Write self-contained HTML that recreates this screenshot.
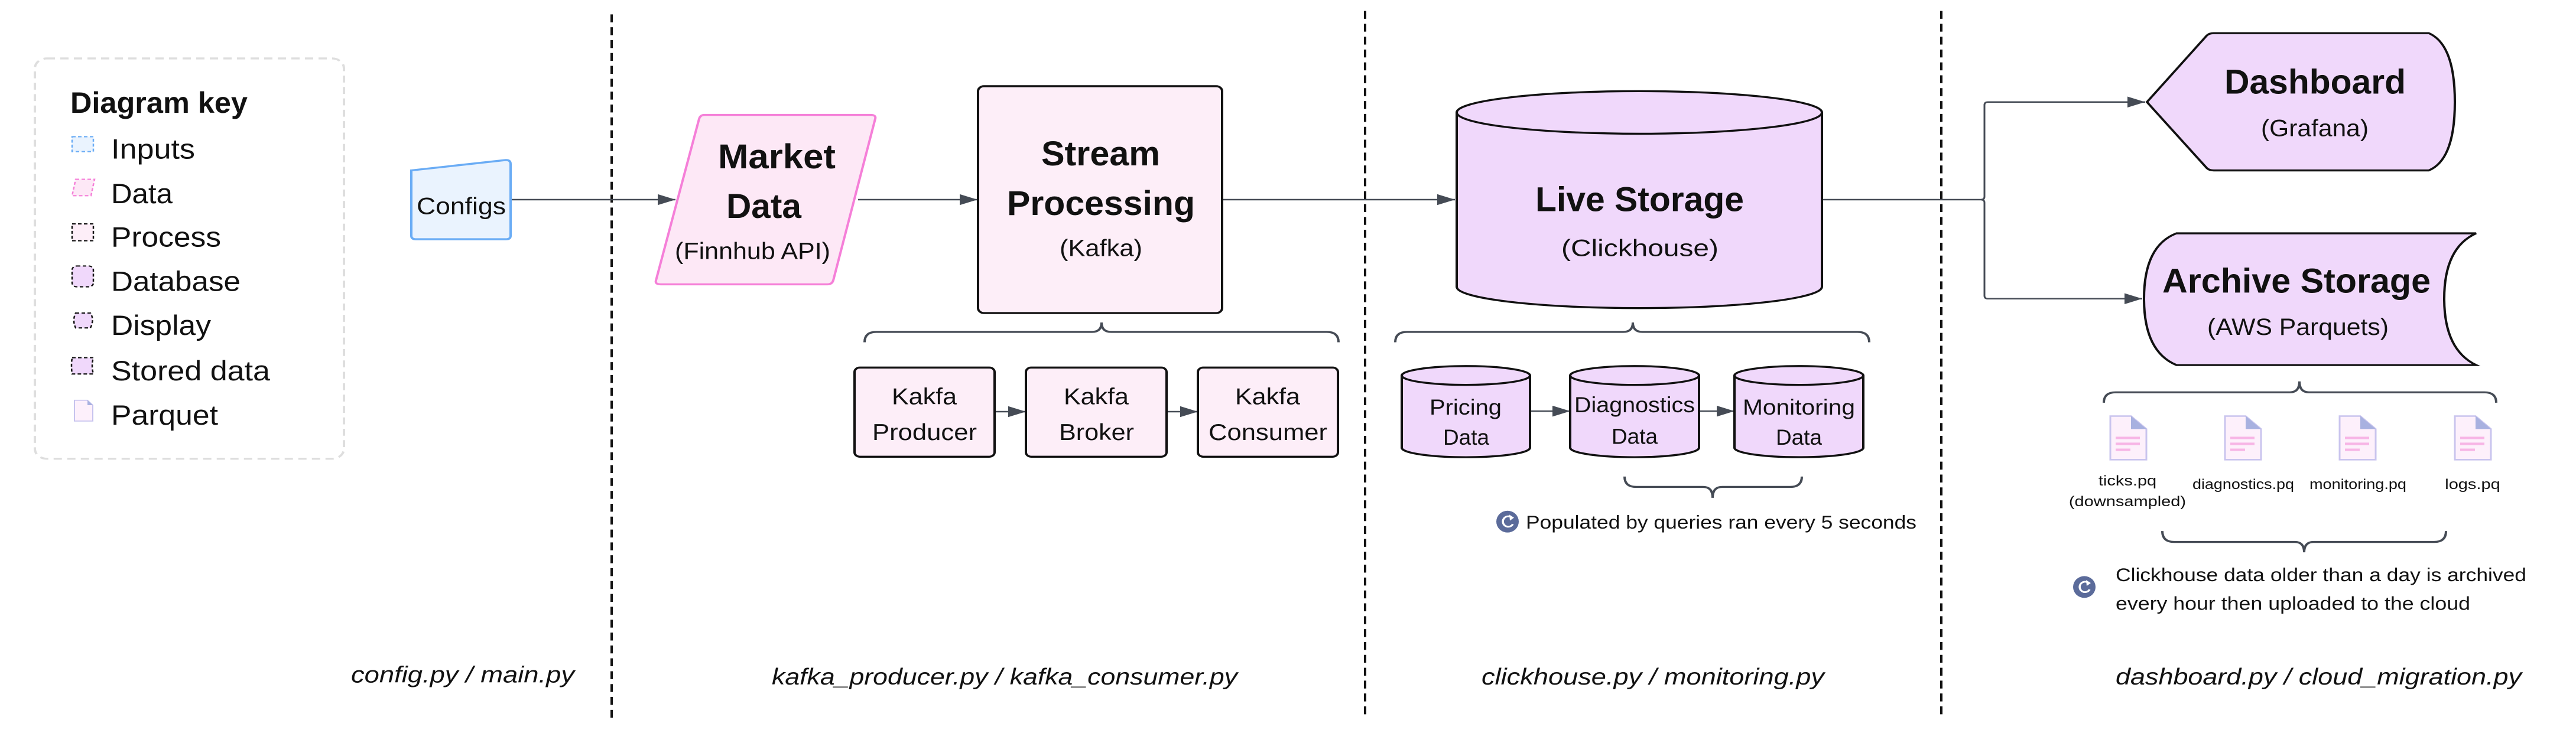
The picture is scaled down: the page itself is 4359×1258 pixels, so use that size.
<!DOCTYPE html>
<html><head><meta charset="utf-8"><style>
html,body{margin:0;padding:0;background:#fff;overflow:hidden;width:4359px;height:1258px;}
svg{display:block;}
text{font-family:"Liberation Sans",sans-serif;fill:#111;}
.b{font-weight:bold;}
</style></head><body>
<svg width="4359" height="1258" viewBox="0 0 4359 1258" xmlns="http://www.w3.org/2000/svg">
<defs>
<marker id="ah2" viewBox="0 0 10 10" refX="10" refY="5" markerWidth="30" markerHeight="22" markerUnits="userSpaceOnUse" orient="auto" preserveAspectRatio="none">
<path d="M0,0 L10,5 L0,10 Z" fill="#454b55"/></marker>
</defs>
<g transform="scale(1,0.8387)">
<!-- Legend -->
<rect x="59" y="118" width="523" height="808" rx="20" fill="none" stroke="#dedede" stroke-width="4" stroke-dasharray="14 9"/>
<text x="119" y="228" class="b" font-size="60" textLength="300" lengthAdjust="spacingAndGlyphs">Diagram key</text>
<rect x="122" y="276" width="36" height="30" fill="#eaf3fe" stroke="#6aacf5" stroke-width="2.5" stroke-dasharray="6 4"/>
<polygon points="128,362 160,362 154,395 122,395" fill="#fde8f6" stroke="#f57fd8" stroke-width="2.5" stroke-dasharray="6 4"/>
<rect x="122" y="452" width="36" height="34" fill="#fdeef8" stroke="#111" stroke-width="2.5" stroke-dasharray="6 4"/>
<rect x="122" y="537" width="36" height="42" rx="8" fill="#f0d8fb" stroke="#111" stroke-width="2.5" stroke-dasharray="6 4"/>
<path d="M128,632 L153,632 Q160,645 153,662 L128,662 Q122,647 128,632 Z" fill="#f0d8fb" stroke="#111" stroke-width="2.5" stroke-dasharray="6 4"/>
<path d="M122,722 L158,722 Q154,738 158,755 L122,755 Q120,738 122,722 Z" fill="#f0d8fb" stroke="#111" stroke-width="2.5" stroke-dasharray="6 4"/>
<path d="M126,808 L148,808 L157,818 L157,850 L126,850 Z" fill="#fdf0fb" stroke="#c7c3ee" stroke-width="2"/>
<path d="M148,808 L157,818 L148,818 Z" fill="#a8b1e0"/>
<g font-size="56">
<text x="188" y="320" textLength="142" lengthAdjust="spacingAndGlyphs">Inputs</text>
<text x="188" y="410" textLength="104" lengthAdjust="spacingAndGlyphs">Data</text>
<text x="188" y="498" textLength="186" lengthAdjust="spacingAndGlyphs">Process</text>
<text x="188" y="587" textLength="219" lengthAdjust="spacingAndGlyphs">Database</text>
<text x="188" y="676" textLength="169" lengthAdjust="spacingAndGlyphs">Display</text>
<text x="188" y="768" textLength="269" lengthAdjust="spacingAndGlyphs">Stored data</text>
<text x="188" y="857" textLength="181" lengthAdjust="spacingAndGlyphs">Parquet</text>
</g>

<!-- Dividers -->
<g stroke="#111" stroke-width="4" stroke-dasharray="16 10">
<line x1="1035" y1="29" x2="1035" y2="1450"/>
<line x1="2310" y1="22" x2="2310" y2="1445"/>
<line x1="3285" y1="22" x2="3285" y2="1445"/>
</g>

<!-- Connectors -->
<g stroke="#454b55" stroke-width="3" fill="none">
<line x1="864" y1="403" x2="1143" y2="403" marker-end="url(#ah2)"/>
<line x1="1452" y1="403" x2="1654" y2="403" marker-end="url(#ah2)"/>
<line x1="2068" y1="403" x2="2462" y2="403" marker-end="url(#ah2)"/>
<line x1="1683" y1="831" x2="1736" y2="831" marker-end="url(#ah2)"/>
<line x1="1974" y1="831" x2="2027" y2="831" marker-end="url(#ah2)"/>
<line x1="2589" y1="830" x2="2657" y2="830" marker-end="url(#ah2)"/>
<line x1="2875" y1="830" x2="2935" y2="830" marker-end="url(#ah2)"/>
<path d="M3083,403 L3352,403 Q3358,403 3358,397 L3358,212 Q3358,206 3364,206 L3630,206" marker-end="url(#ah2)"/>
<path d="M3352,403 Q3358,403 3358,409 L3358,597 Q3358,603 3364,603 L3625,603" marker-end="url(#ah2)"/>
</g>

<!-- Configs -->
<path d="M696,344 L856,323 Q864,323 864,331 L864,476 Q864,483 856,483 L704,483 Q696,483 696,476 Z" fill="#eaf3fe" stroke="#6aacf5" stroke-width="4"/>
<text x="705" y="432" font-size="48" textLength="151" lengthAdjust="spacingAndGlyphs">Configs</text>

<!-- Market Data -->
<path d="M1192,232 L1473,232 Q1483,232 1481,240 L1410,566 Q1408,574 1400,574 L1118,574 Q1108,574 1110,566 L1183,240 Q1185,232 1192,232 Z" fill="#fde8f6" stroke="#f57fd8" stroke-width="4"/>
<text x="1215" y="340" class="b" font-size="70" textLength="199" lengthAdjust="spacingAndGlyphs">Market</text>
<text x="1229" y="440" class="b" font-size="70" textLength="127" lengthAdjust="spacingAndGlyphs">Data</text>
<text x="1142" y="523" font-size="48" textLength="263" lengthAdjust="spacingAndGlyphs">(Finnhub API)</text>

<!-- Stream Processing -->
<rect x="1655" y="174" width="413" height="458" rx="10" fill="#fdeef8" stroke="#111" stroke-width="4"/>
<text x="1762" y="334" class="b" font-size="70" textLength="201" lengthAdjust="spacingAndGlyphs">Stream</text>
<text x="1704" y="434" class="b" font-size="70" textLength="318" lengthAdjust="spacingAndGlyphs">Processing</text>
<text x="1793" y="517" font-size="48" textLength="140" lengthAdjust="spacingAndGlyphs">(Kafka)</text>

<!-- Braces -->
<g stroke="#454b55" stroke-width="4" fill="none">
<path d="M1463,691 Q1463,670 1483,670 L1848,670 Q1864,670 1864,651 Q1864,670 1880,670 L2245,670 Q2265,670 2265,691"/>
<path d="M2361,691 Q2361,670 2381,670 L2747,670 Q2763,670 2763,651 Q2763,670 2779,670 L3143,670 Q3163,670 3163,691"/>
<path d="M2749,962 Q2749,983 2769,983 L2882,983 Q2898,983 2898,1005 Q2898,983 2914,983 L3029,983 Q3049,983 3049,962"/>
<path d="M3560,813 Q3560,792 3580,792 L3875,792 Q3891,792 3891,770 Q3891,792 3907,792 L4204,792 Q4224,792 4224,813"/>
<path d="M3659,1072 Q3659,1094 3679,1094 L3883,1094 Q3899,1094 3899,1115 Q3899,1094 3915,1094 L4119,1094 Q4139,1094 4139,1072"/>
</g>

<!-- Kafka boxes -->
<g fill="#fdeef8" stroke="#111" stroke-width="4">
<rect x="1446" y="742" width="237" height="180" rx="9"/>
<rect x="1736" y="742" width="238" height="180" rx="9"/>
<rect x="2027" y="742" width="237" height="180" rx="9"/>
</g>
<g font-size="46">
<text x="1509" y="816" textLength="110" lengthAdjust="spacingAndGlyphs">Kakfa</text>
<text x="1476" y="888" textLength="177" lengthAdjust="spacingAndGlyphs">Producer</text>
<text x="1800" y="816" textLength="110" lengthAdjust="spacingAndGlyphs">Kakfa</text>
<text x="1792" y="888" textLength="127" lengthAdjust="spacingAndGlyphs">Broker</text>
<text x="2090" y="816" textLength="110" lengthAdjust="spacingAndGlyphs">Kakfa</text>
<text x="2045" y="888" textLength="201" lengthAdjust="spacingAndGlyphs">Consumer</text>
</g>

<!-- Live Storage -->
<path d="M2465,227 A309,43 0 0,1 3083,227 L3083,579 A309,43 0 0,1 2465,579 Z" fill="#f0d8fb" stroke="#111" stroke-width="4"/>
<path d="M2465,227 A309,43 0 0,0 3083,227" fill="none" stroke="#111" stroke-width="4"/>
<text x="2598" y="426" class="b" font-size="70" textLength="353" lengthAdjust="spacingAndGlyphs">Live Storage</text>
<text x="2642" y="517" font-size="48" textLength="266" lengthAdjust="spacingAndGlyphs">(Clickhouse)</text>

<!-- small cylinders -->
<g fill="#f0d8fb" stroke="#111" stroke-width="4">
<path d="M2372,758 A108.5,19 0 0,1 2589,758 L2589,904 A108.5,19 0 0,1 2372,904 Z"/>
<path d="M2372,758 A108.5,19 0 0,0 2589,758" fill="none"/>
<path d="M2657,758 A109,19 0 0,1 2875,758 L2875,904 A109,19 0 0,1 2657,904 Z"/>
<path d="M2657,758 A109,19 0 0,0 2875,758" fill="none"/>
<path d="M2935,758 A109,19 0 0,1 3153,758 L3153,904 A109,19 0 0,1 2935,904 Z"/>
<path d="M2935,758 A109,19 0 0,0 3153,758" fill="none"/>
</g>
<g font-size="44">
<text x="2419" y="837" textLength="122" lengthAdjust="spacingAndGlyphs">Pricing</text>
<text x="2442" y="898" textLength="78" lengthAdjust="spacingAndGlyphs">Data</text>
<text x="2664" y="832" textLength="204" lengthAdjust="spacingAndGlyphs">Diagnostics</text>
<text x="2727" y="896" textLength="78" lengthAdjust="spacingAndGlyphs">Data</text>
<text x="2949" y="837" textLength="190" lengthAdjust="spacingAndGlyphs">Monitoring</text>
<text x="3005" y="898" textLength="78" lengthAdjust="spacingAndGlyphs">Data</text>
</g>

<!-- refresh icons -->
<g>
<ellipse cx="2551" cy="1053" rx="19" ry="22" fill="#5b6b9a"/>
<path d="M2559,1046 A9,10.5 0 1,0 2560,1058" fill="none" stroke="#fff" stroke-width="3.5"/>
<path d="M2554,1039 L2562,1045 L2555,1051 Z" fill="#fff"/>
<ellipse cx="3527" cy="1185" rx="19" ry="22" fill="#5b6b9a"/>
<path d="M3535,1178 A9,10.5 0 1,0 3536,1190" fill="none" stroke="#fff" stroke-width="3.5"/>
<path d="M3530,1171 L3538,1177 L3531,1183 Z" fill="#fff"/>
</g>
<text x="2582" y="1067" font-size="38" textLength="661" lengthAdjust="spacingAndGlyphs">Populated by queries ran every 5 seconds</text>

<!-- Dashboard -->
<path d="M3633,206 L3734,72 Q3738,67 3746,67 L4110,67 Q4154,90 4154,206 Q4154,322 4110,344 L3746,344 Q3738,344 3734,339 Z" fill="#f0d8fb" stroke="#111" stroke-width="4"/>
<text x="3764" y="189" class="b" font-size="70" textLength="307" lengthAdjust="spacingAndGlyphs">Dashboard</text>
<text x="3826" y="275" font-size="48" textLength="182" lengthAdjust="spacingAndGlyphs">(Grafana)</text>

<!-- Archive -->
<path d="M3683,471 L4190,471 Q4136,500 4136,603 Q4136,706 4190,737 L3683,737 Q3628,710 3628,603 Q3628,496 3683,471 Z" fill="#f0d8fb" stroke="#111" stroke-width="4"/>
<text x="3659" y="591" class="b" font-size="70" textLength="454" lengthAdjust="spacingAndGlyphs">Archive Storage</text>
<text x="3735" y="676" font-size="48" textLength="307" lengthAdjust="spacingAndGlyphs">(AWS Parquets)</text>

<!-- file icons -->
<g id="f">
<path d="M3571,840 L3606,840 L3632,866 L3632,928 L3571,928 Z" fill="#fdf0fb" stroke="#c9c4ee" stroke-width="3"/>
<path d="M3606,840 L3632,866 L3606,866 Z" fill="#a8b1e0"/>
<g stroke="#f7b6e6" stroke-width="5"><line x1="3580" y1="884" x2="3621" y2="884"/><line x1="3580" y1="896" x2="3621" y2="896"/><line x1="3580" y1="908" x2="3605" y2="908"/></g>
</g>
<use href="#f" x="194"/>
<use href="#f" x="388"/>
<use href="#f" x="583"/>
<g font-size="29">
<text x="3600" y="980" text-anchor="middle">ticks.pq</text>
<text x="3600" y="1022" text-anchor="middle">(downsampled)</text>
<text x="3796" y="987" text-anchor="middle" textLength="172" lengthAdjust="spacingAndGlyphs">diagnostics.pq</text>
<text x="3990" y="987" text-anchor="middle" textLength="164" lengthAdjust="spacingAndGlyphs">monitoring.pq</text>
<text x="4184" y="987" text-anchor="middle">logs.pq</text>
</g>
<text x="3580" y="1173" font-size="38" textLength="695" lengthAdjust="spacingAndGlyphs">Clickhouse data older than a day is archived</text>
<text x="3580" y="1231" font-size="38" textLength="600" lengthAdjust="spacingAndGlyphs">every hour then uploaded to the cloud</text>

<!-- file names -->
<g font-size="46" font-style="italic">
<text x="594" y="1378" textLength="378" lengthAdjust="spacingAndGlyphs">config.py / main.py</text>
<text x="1306" y="1382" textLength="788" lengthAdjust="spacingAndGlyphs">kafka_producer.py / kafka_consumer.py</text>
<text x="2507" y="1382" textLength="580" lengthAdjust="spacingAndGlyphs">clickhouse.py / monitoring.py</text>
<text x="3580" y="1382" textLength="687" lengthAdjust="spacingAndGlyphs">dashboard.py / cloud_migration.py</text>
</g>
</g>
</svg>
</body></html>
